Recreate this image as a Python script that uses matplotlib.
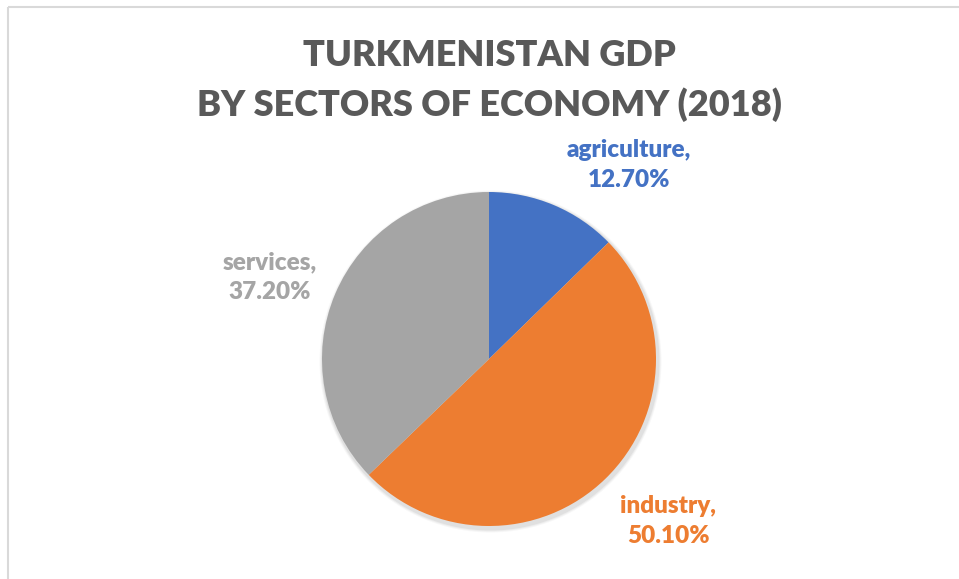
import matplotlib
matplotlib.use("Agg")
import matplotlib.pyplot as plt
from matplotlib.patches import Circle

sectors = ["agriculture", "industry", "services"]
shares = [12.70, 50.10, 37.20]
colors = ["#4472C4", "#ED7D31", "#A5A5A5"]
title_lines = ["TURKMENISTAN GDP", "BY SECTORS OF ECONOMY (2018)"]

W, H = 959, 579
fig = plt.figure(figsize=(W / 100, H / 100), dpi=100)
ax = fig.add_axes([0, 0, 1, 1])

# chart border (top and left visible)
ax.plot([7.5, W], [H - 6.5, H - 6.5], color="#D9D9D9", lw=1.5, solid_capstyle="butt")
ax.plot([7.5, 7.5], [0, H - 6.5], color="#D9D9D9", lw=1.5, solid_capstyle="butt")

cx, cy, r = 489, H - 359, 167
# soft shadow
for k, a in [(4, 0.03), (3, 0.04), (2, 0.05)]:
    ax.add_patch(Circle((cx + 1.5, cy - 2.5), r + k, facecolor="black", alpha=a,
                        linewidth=0, zorder=0))
wedges, _ = ax.pie(shares, colors=colors, startangle=90, counterclock=False,
                   center=(cx, cy), radius=r, frame=True,
                   wedgeprops=dict(linewidth=0, zorder=2))
ax.set_xlim(0, W)
ax.set_ylim(0, H)
ax.set_aspect("equal")
ax.axis("off")

font = "Lato"
ax.text(489, H - 55, title_lines[0], ha="center", va="center",
        fontsize=26, fontweight=800, color="#595959", family=font)
ax.text(489, H - 105, title_lines[1], ha="center", va="center",
        fontsize=26, fontweight=800, color="#595959", family=font)

label_pos = [(629, 165), (668, 521), (270, 277)]
for name, val, col, (lx, ly) in zip(sectors, shares, colors, label_pos):
    ax.text(lx, H - ly, f"{name},\n{val:.2f}%", ha="center", va="center",
            fontsize=17.5, fontweight=800, color=col, family=font,
            linespacing=1.42)

fig.savefig("out.png", dpi=100)
